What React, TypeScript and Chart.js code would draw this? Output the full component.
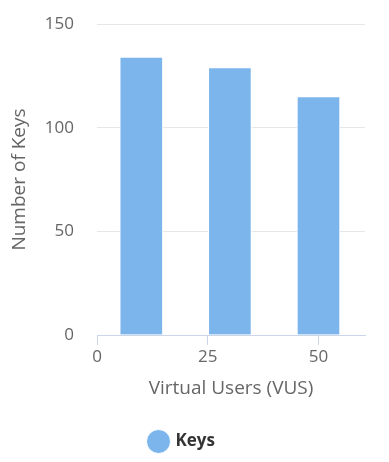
import React, { useEffect, useRef } from "react";
import { Chart, registerables } from "chart.js";

Chart.register(...registerables);

const virtualUsers = [10, 30, 50];
const keyCounts = [134, 129, 115];
const xTicks = [0, 25, 50];
const yTicks = [0, 50, 100, 150];
const seriesName = "Keys";

const FONT = "'Open Sans', 'Segoe UI', sans-serif";

export default function App() {
  const ref = useRef<HTMLCanvasElement>(null);
  useEffect(() => {
    if (!ref.current) return;
    const chart = new Chart(ref.current, {
      type: "bar",
      data: {
        datasets: [
          {
            label: seriesName,
            data: virtualUsers.map((x, i) => ({ x, y: keyCounts[i] })),
            backgroundColor: "#7cb5ec",
            borderColor: "#ffffff",
            borderWidth: 1,
            barThickness: 43,
          },
        ],
      },
      options: {
        animation: false,
        responsive: false,
        devicePixelRatio: 1,
        layout: { padding: { left: 0, right: 24, top: 24, bottom: 2 } },
        plugins: {
          tooltip: { enabled: false },
          legend: {
            position: "bottom",
            labels: {
              usePointStyle: true,
              pointStyle: "circle",
              boxWidth: 17,
              boxHeight: 17,
              padding: 14,
              color: "#333333",
              font: { family: FONT, size: 17, weight: "bold" },
            },
          },
        },
        scales: {
          x: {
            type: "linear",
            min: 0,
            max: 60.5,
            offset: false,
            afterBuildTicks: (s: any) => {
              s.ticks = xTicks.map((v) => ({ value: v }));
            },
            afterFit: (s: any) => {
              s.height = 84;
              s.paddingLeft = 0;
              s.paddingRight = 0;
            },
            border: { display: true, color: "#ccd6eb", width: 1 },
            grid: {
              display: true,
              offset: false,
              drawOnChartArea: false,
              drawTicks: true,
              tickLength: 10,
              color: "#ccd6eb",
            },
            ticks: {
              color: "#666666",
              font: { family: FONT, size: 17 },
              padding: 2,
              maxRotation: 0,
            },
            title: {
              display: true,
              text: "Virtual Users (VUS)",
              color: "#666666",
              font: { family: FONT, size: 19 },
              padding: { top: 0, bottom: 19 },
            },
          },
          y: {
            min: 0,
            max: 150,
            afterBuildTicks: (s: any) => {
              s.ticks = yTicks.map((v) => ({ value: v }));
            },
            afterFit: (s: any) => {
              s.width = 97;
              s.paddingTop = 0;
              s.paddingBottom = 0;
            },
            border: { display: false },
            grid: { color: "#e6e6e6", drawTicks: false },
            ticks: {
              color: "#666666",
              font: { family: FONT, size: 17 },
              padding: 23,
            },
            title: {
              display: true,
              text: "Number of Keys",
              color: "#666666",
              font: { family: FONT, size: 19 },
              padding: { top: 8, bottom: 0 },
            },
          },
        },
      },
    });
    return () => chart.destroy();
  }, []);
  return (
    <div style={{ position: "fixed", left: 0, top: 0, width: 389, height: 462, background: "#fff" }}>
      <canvas ref={ref} width={389} height={462} style={{ width: 389, height: 462 }} />
    </div>
  );
}
